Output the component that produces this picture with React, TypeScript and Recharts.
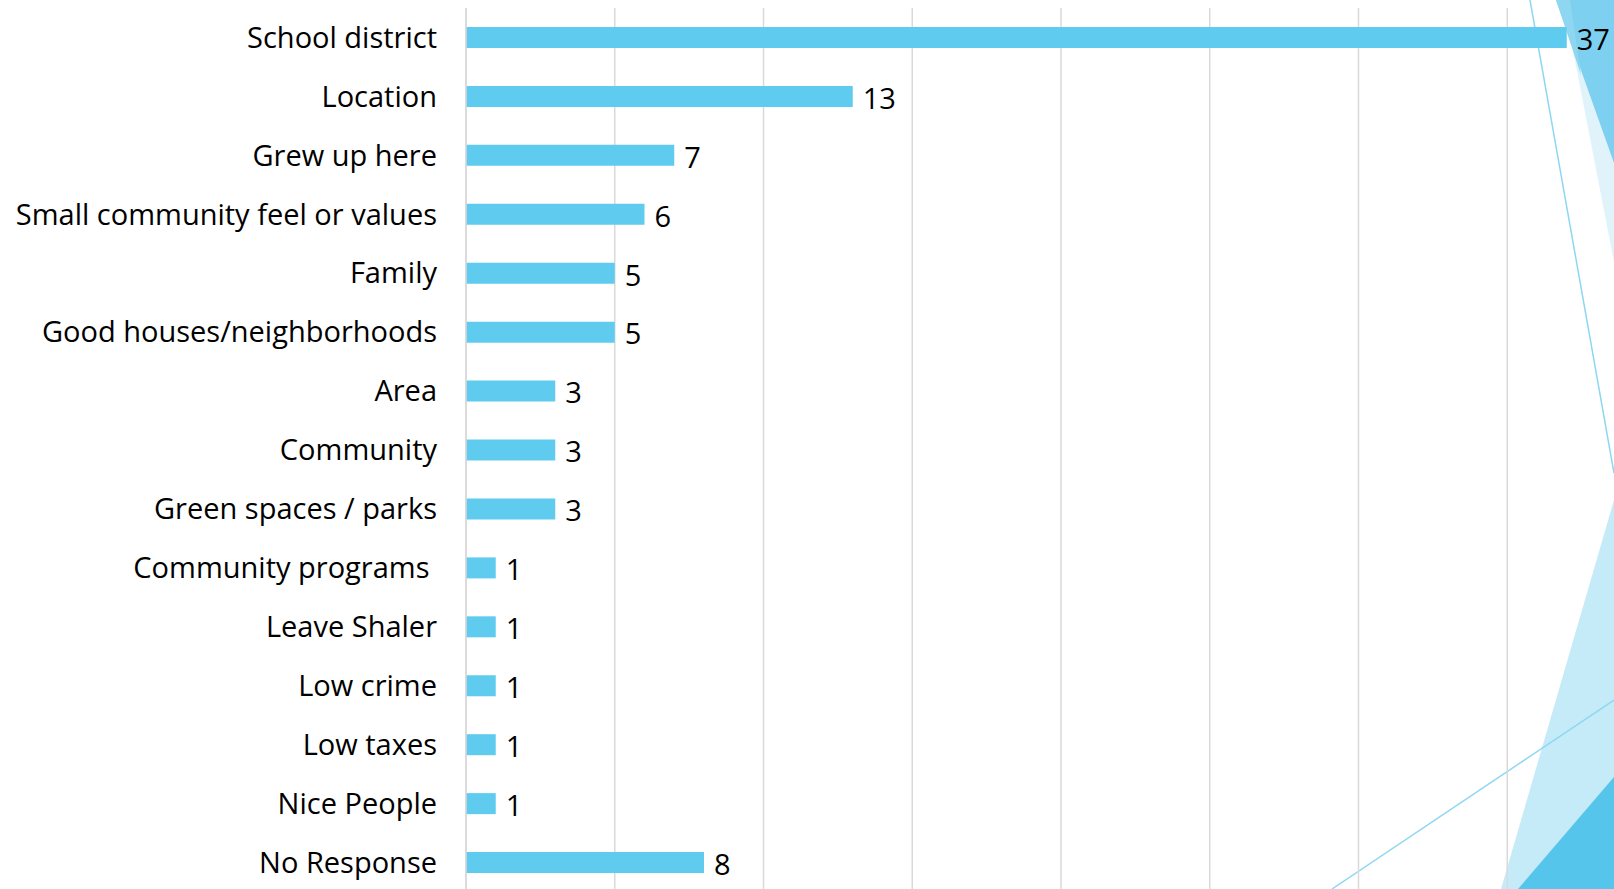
import { Bar, BarChart, CartesianGrid, LabelList, XAxis, YAxis } from "recharts"

const reasons = [
  "School district",
  "Location",
  "Grew up here",
  "Small community feel or values",
  "Family",
  "Good houses/neighborhoods",
  "Area",
  "Community",
  "Green spaces / parks",
  "Community programs\u00a0",
  "Leave Shaler",
  "Low crime",
  "Low taxes",
  "Nice People",
  "No Response",
]

const counts = [37, 13, 7, 6, 5, 5, 3, 3, 3, 1, 1, 1, 1, 1, 8]

const xTicks = [0, 5, 10, 15, 20, 25, 30, 35, 40]

const data = reasons.map((name, i) => ({ name, value: counts[i] }))

const font = "'Open Sans', sans-serif"

// theme shapes on the right edge of the slide
function SlideDecor() {
  return (
    <svg width={1614} height={889} style={{ position: "absolute", left: 0, top: 0 }}>
      <polygon points="1572,45 1614,45 1614,262" fill="#e0f3fb" />
      <polygon points="1556,0 1614,0 1614,163" fill="#7dd0ef" />
      <polygon points="1556,0 1570,0 1581,75" fill="#8fd7f1" />
      <line x1={1530} y1={0} x2={1614} y2={473} stroke="#8dd7f2" strokeWidth={1.5} />
      <polygon points="1614,500 1614,889 1501,889" fill="#c6ebf8" />
      <polygon points="1614,777 1614,889 1518,889" fill="#56c5eb" />
      <line x1={1614} y1={700} x2={1332} y2={889} stroke="#8dd7f2" strokeWidth={1.5} />
    </svg>
  )
}

export default function App() {
  return (
    <div
      style={{
        position: "absolute",
        left: 0,
        top: 0,
        width: 1614,
        height: 889,
        overflow: "hidden",
        background: "#fff",
      }}
    >
      <SlideDecor />
      <div style={{ position: "absolute", left: 0, top: 0 }}>
        <BarChart
          width={1700}
          height={900}
          data={data}
          layout="vertical"
          margin={{ top: 8, right: 44, bottom: 8, left: 0 }}
        >
          <CartesianGrid horizontal={false} stroke="#d9d9d9" strokeWidth={1.5} />
          <XAxis type="number" domain={[0, 40]} ticks={xTicks} hide />
          <YAxis
            type="category"
            dataKey="name"
            width={466}
            axisLine={{ stroke: "#d9d9d9", strokeWidth: 1.5 }}
            tickLine={false}
            tickSize={0}
            tickMargin={29}
            interval={0}
            tick={{ fill: "#000", fontSize: 29, fontFamily: font }}
          />
          <Bar dataKey="value" fill="#5fcbef" barSize={21} isAnimationActive={false}>
            <LabelList
              dataKey="value"
              position="right"
              offset={10}
              dy={2}
              fill="#000"
              fontSize={29}
              fontFamily={font}
            />
          </Bar>
        </BarChart>
      </div>
    </div>
  )
}
